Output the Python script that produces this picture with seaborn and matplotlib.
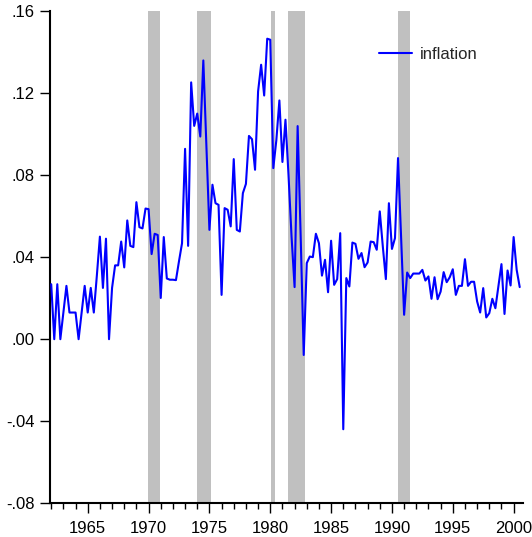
import numpy as np
import pandas as pd
import matplotlib
matplotlib.use("Agg")
import matplotlib.pyplot as plt
import matplotlib.ticker as mticker
import seaborn as sns

# Quarterly inflation, 1962Q1 .. 2000Q3
start_year = 1962.0
inflation = [
    0.0268, 0.0, 0.0268, 0.0, 0.0132, 0.026, 0.013, 0.013, 0.013, 0.0,
    0.013, 0.026, 0.013, 0.025, 0.013, 0.031, 0.050, 0.025, 0.049, 0.0,
    0.025, 0.036, 0.036, 0.0476, 0.035, 0.0579, 0.0455, 0.0449, 0.0668, 0.0546,
    0.054, 0.0637, 0.0634, 0.0415, 0.0514, 0.0508, 0.0201, 0.0498, 0.0296, 0.029,
    0.029, 0.0288, 0.038, 0.0468, 0.0928, 0.0455, 0.1252, 0.104, 0.110, 0.0988,
    0.1359, 0.094, 0.0533, 0.0753, 0.0663, 0.0655, 0.0216, 0.0639, 0.0631, 0.055,
    0.0878, 0.0533, 0.0525, 0.0712, 0.0757, 0.0991, 0.0975, 0.0826, 0.1208, 0.1338,
    0.1188, 0.1465, 0.146, 0.0834, 0.097, 0.1164, 0.0864, 0.107, 0.080, 0.050,
    0.0254, 0.1039, 0.050, -0.0077, 0.0371, 0.0403, 0.040, 0.0514, 0.0468, 0.0310,
    0.0387, 0.0229, 0.048, 0.0265, 0.0293, 0.0517, -0.0439, 0.0298, 0.0257, 0.0471,
    0.0465, 0.0392, 0.042, 0.0351, 0.0374, 0.0476, 0.0473, 0.0436, 0.0623, 0.0452,
    0.0293, 0.0663, 0.044, 0.0493, 0.0883, 0.050, 0.0119, 0.0325, 0.0298, 0.032,
    0.032, 0.032, 0.0338, 0.0286, 0.0306, 0.0197, 0.0302, 0.0195, 0.0232, 0.0327,
    0.0278, 0.0302, 0.0341, 0.0216, 0.026, 0.026, 0.039, 0.026, 0.028, 0.028,
    0.0184, 0.013, 0.0249, 0.0106, 0.0127, 0.0197, 0.0151, 0.026, 0.0366, 0.0123,
    0.0335, 0.0262, 0.0498, 0.0338, 0.0254,
]
dates = [start_year + i / 4 for i in range(len(inflation))]

# Recession shading (start, end in fractional years)
recession_start = [1969.96, 1973.98, 1980.06, 1981.46, 1990.50]
recession_end = [1970.94, 1975.11, 1980.39, 1982.83, 1991.46]

x_ticks = [1965, 1970, 1975, 1980, 1985, 1990, 1995, 2000]
y_ticks = [-0.08, -0.04, 0.00, 0.04, 0.08, 0.12, 0.16]

df = pd.DataFrame({"date": dates, "inflation": inflation})

sns.set_style("ticks")
plt.rcParams["font.family"] = ["Liberation Sans", "DejaVu Sans"]

fig = plt.figure(figsize=(5.32, 5.37), dpi=100)
ax = fig.add_axes([50 / 532, 1 - 503.3 / 537, (523 - 50) / 532, (503.3 - 11) / 537])

for s, e in zip(recession_start, recession_end):
    ax.axvspan(s, e, color="#c0c0c0", lw=0, zorder=0)

sns.lineplot(data=df, x="date", y="inflation", ax=ax, color="#0000ff",
             linewidth=1.5, label="inflation", zorder=3)

ax.set_xlim(1961.9, 2000.77)
ax.set_ylim(-0.08, 0.16)
ax.set_xticks(x_ticks)
ax.set_xticklabels([str(t) for t in x_ticks])
ax.xaxis.set_minor_locator(mticker.MultipleLocator(1))
ax.set_yticks(y_ticks)
ax.yaxis.set_major_formatter(mticker.FuncFormatter(
    lambda v, p: f"{v:.2f}".replace("0.", ".", 1)))
ax.set_xlabel("")
ax.set_ylabel("")

for side in ["top", "right"]:
    ax.spines[side].set_visible(False)
for side in ["left", "bottom"]:
    ax.spines[side].set_linewidth(1.5)
    ax.spines[side].set_color("black")

ax.tick_params(axis="both", which="major", labelsize=12, colors="black",
               direction="out", width=1.0)
ax.tick_params(axis="x", which="major", length=7, pad=5.5)
ax.tick_params(axis="x", which="minor", length=4, width=1.0, color="black")
ax.tick_params(axis="y", which="major", length=7, pad=4)

leg = ax.legend(loc="upper left", bbox_to_anchor=(372 / 532, 1 - 40 / 537),
                bbox_transform=fig.transFigure, frameon=False, fontsize=12,
                handlelength=2.0, handletextpad=0.5, borderaxespad=0)

fig.savefig("out.png", dpi=100)
